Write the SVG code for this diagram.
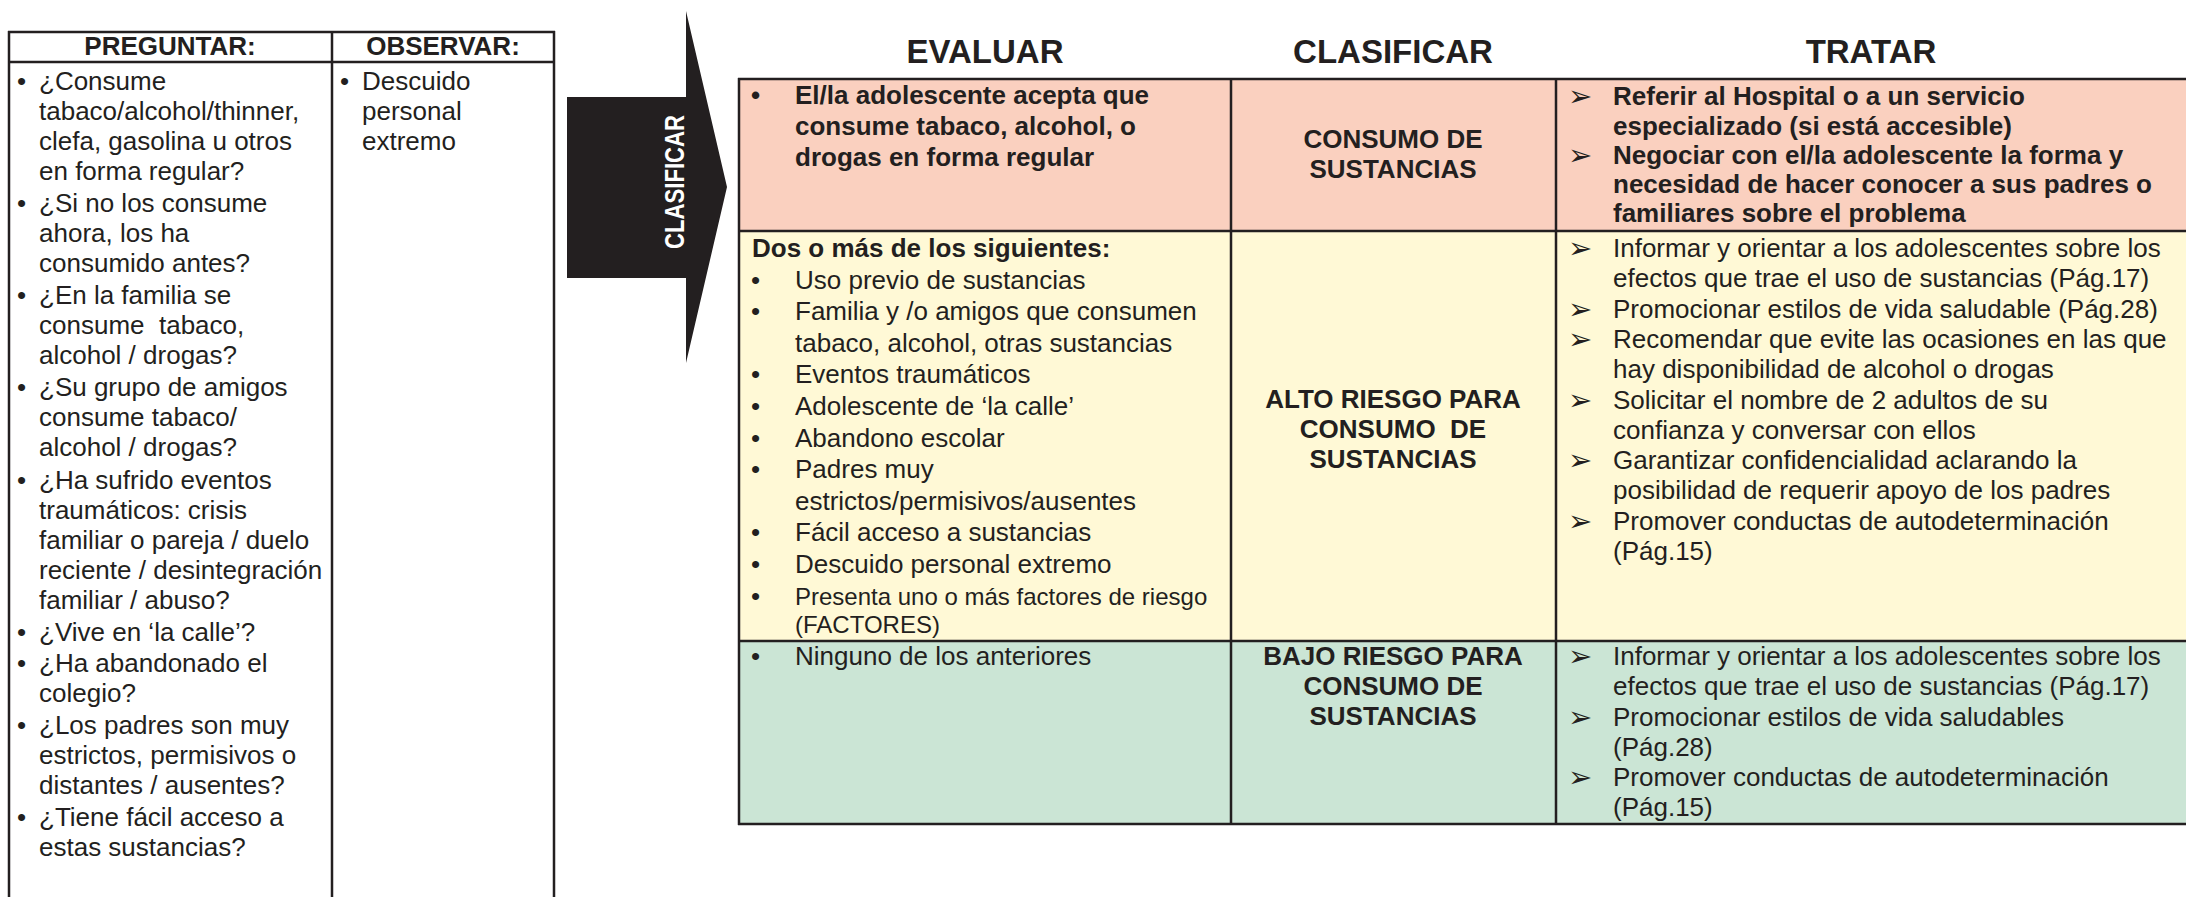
<svg xmlns="http://www.w3.org/2000/svg" width="2186" height="897" viewBox="0 0 2186 897">
<style>
  .t { font-family: "Liberation Sans", Arial, sans-serif; font-size: 26px; fill: #231f20; }
  .b { font-weight: bold; }
  .h { font-family: "Liberation Sans", Arial, sans-serif; font-size: 33px; font-weight: bold; fill: #231f20; text-anchor: middle; }
  .c { text-anchor: middle; }
  .sm { font-size: 24px; }
  .ln { stroke: #231f20; stroke-width: 2.5; fill: none; }
  .ar { font-family: "DejaVu Sans", sans-serif; font-size: 29px; font-weight: normal; fill: #231f20; }
  .pink { fill: #fad0bf; }
  .yel { fill: #fff9d6; }
  .grn { fill: #cbe5d5; }
</style>
<rect width="2186" height="897" fill="#ffffff"/>

<g id="preguntar-observar">
  <g class="ln">
    <line x1="8" y1="32" x2="555" y2="32"/>
    <line x1="8" y1="62" x2="555" y2="62"/>
    <line x1="9" y1="31" x2="9" y2="897"/>
    <line x1="332" y1="31" x2="332" y2="897"/>
    <line x1="554" y1="31" x2="554" y2="897"/>
  </g>
  <text class="t b c" x="170" y="55">PREGUNTAR:</text>
  <text class="t b c" x="443" y="55">OBSERVAR:</text>
  <g class="t">
    <text x="17" y="90">•</text><text x="39" y="90">¿Consume</text>
    <text x="39" y="120">tabaco/alcohol/thinner,</text>
    <text x="39" y="150">clefa, gasolina u otros</text>
    <text x="39" y="180">en forma regular?</text>
    <text x="17" y="212">•</text><text x="39" y="212">¿Si no los consume</text>
    <text x="39" y="242">ahora, los ha</text>
    <text x="39" y="272">consumido antes?</text>
    <text x="17" y="304">•</text><text x="39" y="304">¿En la familia se</text>
    <text x="39" y="334" xml:space="preserve">consume  tabaco,</text>
    <text x="39" y="364">alcohol / drogas?</text>
    <text x="17" y="396">•</text><text x="39" y="396">¿Su grupo de amigos</text>
    <text x="39" y="426">consume tabaco/</text>
    <text x="39" y="456">alcohol / drogas?</text>
    <text x="17" y="489">•</text><text x="39" y="489">¿Ha sufrido eventos</text>
    <text x="39" y="519">traumáticos: crisis</text>
    <text x="39" y="549">familiar o pareja / duelo</text>
    <text x="39" y="579">reciente / desintegración</text>
    <text x="39" y="609">familiar / abuso?</text>
    <text x="17" y="641">•</text><text x="39" y="641">¿Vive en ‘la calle’?</text>
    <text x="17" y="672">•</text><text x="39" y="672">¿Ha abandonado el</text>
    <text x="39" y="702">colegio?</text>
    <text x="17" y="734">•</text><text x="39" y="734">¿Los padres son muy</text>
    <text x="39" y="764">estrictos, permisivos o</text>
    <text x="39" y="794">distantes / ausentes?</text>
    <text x="17" y="826">•</text><text x="39" y="826">¿Tiene fácil acceso a</text>
    <text x="39" y="856">estas sustancias?</text>
  </g>
  <g class="t">
    <text x="340" y="90">•</text><text x="362" y="90">Descuido</text>
    <text x="362" y="120">personal</text>
    <text x="362" y="150">extremo</text>
  </g>
</g>

<g id="arrow-clasificar">
  <polygon points="567,97 686,97 686,11 727,187 686,363 686,278 567,278" fill="#231f20"/>
  <text class="t b c" style="fill:#ffffff;font-size:28px" transform="translate(684,182) rotate(-90)" textLength="134" lengthAdjust="spacingAndGlyphs">CLASIFICAR</text>
</g>

<g id="column-headers">
  <text class="h" x="985" y="63">EVALUAR</text>
  <text class="h" x="1393" y="63">CLASIFICAR</text>
  <text class="h" x="1871" y="63">TRATAR</text>
</g>

<g id="table-backgrounds">
  <rect class="pink" x="739" y="79" width="1451" height="152"/>
  <rect class="yel" x="739" y="231" width="1451" height="410"/>
  <rect class="grn" x="739" y="641" width="1451" height="183"/>
</g>

<g id="row-consumo">
  <g class="t b">
    <text x="751" y="104">•</text>
    <text x="795" y="104">El/la adolescente acepta que</text>
    <text x="795" y="135">consume tabaco, alcohol, o</text>
    <text x="795" y="166">drogas en forma regular</text>
  </g>
  <g class="t b c">
    <text x="1393" y="148">CONSUMO DE</text>
    <text x="1393" y="178">SUSTANCIAS</text>
  </g>
  <g class="t b">
    <text class="ar" x="1568" y="106">➢</text>
    <text x="1613" y="105">Referir al Hospital o a un servicio</text>
    <text x="1613" y="134.5">especializado (si está accesible)</text>
    <text class="ar" x="1568" y="165">➢</text>
    <text x="1613" y="164">Negociar con el/la adolescente la forma y</text>
    <text x="1613" y="193">necesidad de hacer conocer a sus padres o</text>
    <text x="1613" y="222">familiares sobre el problema</text>
  </g>
</g>

<g id="row-alto-riesgo">
  <g class="t">
    <text class="b" x="752" y="257">Dos o más de los siguientes:</text>
    <text x="751" y="288.6">•</text><text x="795" y="288.6">Uso previo de sustancias</text>
    <text x="751" y="320.2">•</text><text x="795" y="320.2">Familia y /o amigos que consumen</text>
    <text x="795" y="351.8">tabaco, alcohol, otras sustancias</text>
    <text x="751" y="383.4">•</text><text x="795" y="383.4">Eventos traumáticos</text>
    <text x="751" y="415">•</text><text x="795" y="415">Adolescente de ‘la calle’</text>
    <text x="751" y="446.6">•</text><text x="795" y="446.6">Abandono escolar</text>
    <text x="751" y="478.2">•</text><text x="795" y="478.2">Padres muy</text>
    <text x="795" y="509.8">estrictos/permisivos/ausentes</text>
    <text x="751" y="541.4">•</text><text x="795" y="541.4">Fácil acceso a sustancias</text>
    <text x="751" y="573">•</text><text x="795" y="573">Descuido personal extremo</text>
    <text x="751" y="605">•</text><text class="sm" x="795" y="605">Presenta uno o más factores de riesgo</text>
    <text class="sm" x="795" y="633">(FACTORES)</text>
  </g>
  <g class="t b c">
    <text x="1393" y="408">ALTO RIESGO PARA</text>
    <text x="1393" y="438" xml:space="preserve">CONSUMO  DE</text>
    <text x="1393" y="468">SUSTANCIAS</text>
  </g>
  <g class="t">
    <text class="ar" x="1568" y="258">➢</text>
    <text x="1613" y="257">Informar y orientar a los adolescentes sobre los</text>
    <text x="1613" y="287.3">efectos que trae el uso de sustancias (Pág.17)</text>
    <text class="ar" x="1568" y="318.6">➢</text>
    <text x="1613" y="317.6">Promocionar estilos de vida saludable (Pág.28)</text>
    <text class="ar" x="1568" y="348.9">➢</text>
    <text x="1613" y="347.9">Recomendar que evite las ocasiones en las que</text>
    <text x="1613" y="378.2">hay disponibilidad de alcohol o drogas</text>
    <text class="ar" x="1568" y="409.5">➢</text>
    <text x="1613" y="408.5">Solicitar el nombre de 2 adultos de su</text>
    <text x="1613" y="438.8">confianza y conversar con ellos</text>
    <text class="ar" x="1568" y="470.1">➢</text>
    <text x="1613" y="469.1">Garantizar confidencialidad aclarando la</text>
    <text x="1613" y="499.4">posibilidad de requerir apoyo de los padres</text>
    <text class="ar" x="1568" y="530.7">➢</text>
    <text x="1613" y="529.7">Promover conductas de autodeterminación</text>
    <text x="1613" y="560">(Pág.15)</text>
  </g>
</g>

<g id="row-bajo-riesgo">
  <g class="t">
    <text x="751" y="665">•</text><text x="795" y="665">Ninguno de los anteriores</text>
  </g>
  <g class="t b c">
    <text x="1393" y="665">BAJO RIESGO PARA</text>
    <text x="1393" y="695">CONSUMO DE</text>
    <text x="1393" y="725">SUSTANCIAS</text>
  </g>
  <g class="t">
    <text class="ar" x="1568" y="666">➢</text>
    <text x="1613" y="665">Informar y orientar a los adolescentes sobre los</text>
    <text x="1613" y="695">efectos que trae el uso de sustancias (Pág.17)</text>
    <text class="ar" x="1568" y="726.5">➢</text>
    <text x="1613" y="725.5">Promocionar estilos de vida saludables</text>
    <text x="1613" y="755.5">(Pág.28)</text>
    <text class="ar" x="1568" y="787">➢</text>
    <text x="1613" y="786">Promover conductas de autodeterminación</text>
    <text x="1613" y="816">(Pág.15)</text>
  </g>
</g>

<g id="table-grid" class="ln">
  <line x1="738" y1="79" x2="2190" y2="79"/>
  <line x1="738" y1="231" x2="2190" y2="231"/>
  <line x1="738" y1="641" x2="2190" y2="641"/>
  <line x1="738" y1="824" x2="2190" y2="824"/>
  <line x1="739" y1="78" x2="739" y2="825"/>
  <line x1="1231" y1="79" x2="1231" y2="824"/>
  <line x1="1556" y1="79" x2="1556" y2="824"/>
</g>
</svg>
